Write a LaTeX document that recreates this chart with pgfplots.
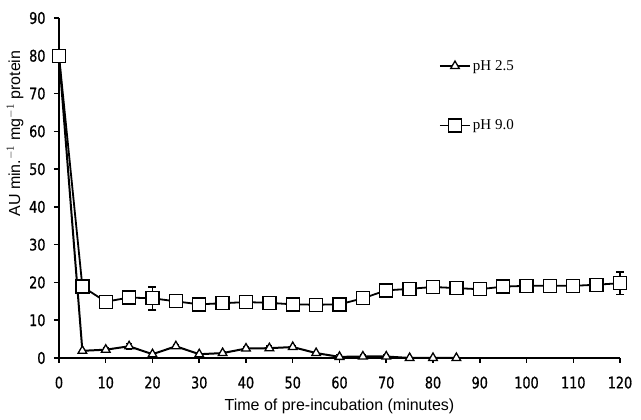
\documentclass[border=0pt]{standalone}
\usepackage{pgfplots}
\pgfplotsset{compat=1.18}
\usepackage{fontspec}
\setmainfont{Liberation Serif}
\newfontfamily\tickfont[FakeStretch=0.8,FakeBold=0.8]{DejaVu Sans}
\newfontfamily\labfont{Liberation Sans}
\begin{document}
\begin{tikzpicture}
\path[use as bounding box] (0,0) rectangle (641pt,420pt);
\begin{axis}[
  at={(59pt,62pt)}, anchor=south west,
  width=561pt, height=340pt, scale only axis,
  xmin=0, xmax=120, ymin=0, ymax=90,
  axis x line=bottom, axis y line=left,
  axis line style={-, line width=1.5pt},
  xtick={0,10,...,120}, ytick={0,10,...,90},
  tick align=outside, major tick length=5pt,
  tick style={line width=1.5pt, black},
  /pgf/number format/assume math mode=true,
  tick label style={font=\tickfont\fontsize{16}{18}\selectfont},
  xticklabel style={yshift=-10pt},
  yticklabel style={xshift=-5pt},
  xlabel={\labfont\fontsize{16}{18}\selectfont Time of pre-incubation (minutes)},
  ylabel={\labfont\fontsize{16}{18}\selectfont AU min.$^{-1}$ mg$^{-1}$ protein},
  xlabel style={at={(axis description cs:0.5,0)}, anchor=center, yshift=-48pt},
  ylabel style={at={(axis description cs:-0.078,0.66)}, anchor=center},
  clip=false,
  legend style={draw=none, fill=none, at={(axis description cs:0.677,0.882)}, anchor=north west,
    font=\fontsize{15}{16}\selectfont, row sep=44pt, inner sep=0pt,
    /tikz/every even column/.append style={column sep=6pt}},
  legend cell align=left,
  legend image code/.code={\draw[mark repeat=2,mark phase=2,#1] plot coordinates {(0pt,0pt) (15pt,0pt) (30pt,0pt)};},
]
\addplot[black, line width=2pt, mark=triangle*, mark size=5pt,
  mark options={fill=white, line width=1.3pt},
  error bars/.cd, y dir=both, y explicit, error bar style={line width=1.3pt}, error mark options={rotate=90, mark size=3pt, line width=1.3pt}]
  coordinates {
  (0,80) +- (0,0)
  (5,1.9) +- (0,0)
  (10,2.2) +- (0,0.5)
  (15,3.1) +- (0,0.8)
  (20,1.0) +- (0,0)
  (25,3.1) +- (0,0.5)
  (30,1.0) +- (0,0)
  (35,1.3) +- (0,0.5)
  (40,2.5) +- (0,0.5)
  (45,2.6) +- (0,0.6)
  (50,2.9) +- (0,0.5)
  (55,1.3) +- (0,0)
  (60,0.3) +- (0,0.6)
  (65,0.4) +- (0,0.6)
  (70,0.4) +- (0,0.6)
  (75,0) +- (0,0)
  (80,0) +- (0,0)
  (85,0) +- (0,0)
  };
\addlegendentry{pH 2.5}
\addplot[black, line width=1.8pt, mark=square*, mark size=6.5pt,
  mark options={fill=white, line width=1.3pt},
  error bars/.cd, y dir=both, y explicit, error bar style={line width=1.3pt}, error mark options={rotate=90, mark size=4pt, line width=1.8pt}]
  coordinates {
  (0,80) +- (0,0)
  (5,18.9) +- (0,0)
  (10,14.9) +- (0,0)
  (15,16.0) +- (0,0)
  (20,15.8) +- (0,3)
  (25,15.0) +- (0,0)
  (30,14.2) +- (0,0)
  (35,14.5) +- (0,1)
  (40,14.8) +- (0,0)
  (45,14.6) +- (0,0)
  (50,14.2) +- (0,0)
  (55,14.1) +- (0,0)
  (60,14.2) +- (0,0)
  (65,15.8) +- (0,0)
  (70,17.9) +- (0,0)
  (75,18.3) +- (0,0)
  (80,18.8) +- (0,0)
  (85,18.5) +- (0,0)
  (90,18.2) +- (0,1.2)
  (95,18.9) +- (0,0)
  (100,19.1) +- (0,0)
  (105,19.1) +- (0,0)
  (110,19.1) +- (0,0)
  (115,19.4) +- (0,0)
  (120,19.8) +- (0,3)
  };
\addlegendentry{pH 9.0}
\end{axis}
\end{tikzpicture}
\end{document}
